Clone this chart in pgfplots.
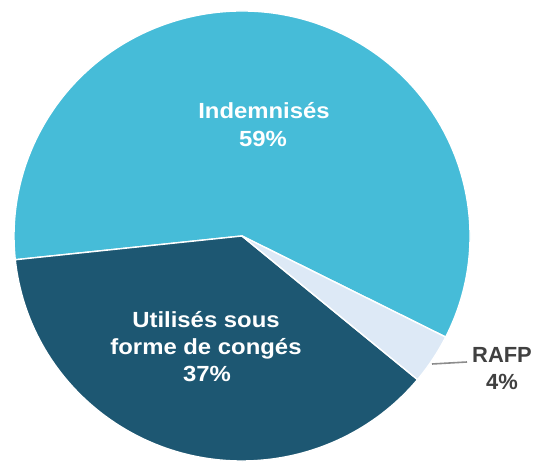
\documentclass[border=0pt]{standalone}
\usepackage{pgfplots}
\usepackage{pgfplotstable}
\pgfplotsset{compat=1.18}
\usepackage{fontspec}
\setmainfont{Liberation Sans}
\definecolor{cIndem}{RGB}{70,188,216}
\definecolor{cUtil}{RGB}{29,87,114}
\definecolor{cRafp}{RGB}{221,233,246}
\definecolor{cLab}{RGB}{64,64,64}
\definecolor{cLead}{RGB}{140,140,140}

\pgfplotstableread{
label value
Indemnises 59.1
Utilises 37.3
RAFP 3.6
}\piedata
\pgfplotstablegetelem{0}{value}\of\piedata \let\vA\pgfplotsretval
\pgfplotstablegetelem{1}{value}\of\piedata \let\vB\pgfplotsretval
\pgfplotstablegetelem{2}{value}\of\piedata \let\vC\pgfplotsretval
\pgfmathsetmacro{\aS}{-26.7}
\pgfmathsetmacro{\aA}{\aS+3.6*\vA}
\pgfmathsetmacro{\aB}{\aA+3.6*\vB}
\pgfmathsetmacro{\aC}{\aB+3.6*\vC}
\def\cx{242}
\def\cy{-236}
\def\rx{228}
\def\ry{225}

\begin{document}
\begin{tikzpicture}
\begin{axis}[
  scale only axis, width=542bp, height=464bp,
  xmin=0, xmax=542, ymin=-464, ymax=0,
  hide axis, clip=false,
]
\fill[cIndem, draw=white, line width=1.4bp, line join=round]
  (axis cs:\cx,\cy) -- (axis cs:{\cx+\rx*cos(\aS)},{\cy+\ry*sin(\aS)})
  arc[start angle=\aS, end angle=\aA, x radius=\rx bp, y radius=\ry bp] -- cycle;
\fill[cUtil, draw=white, line width=1.4bp, line join=round]
  (axis cs:\cx,\cy) -- (axis cs:{\cx+\rx*cos(\aA)},{\cy+\ry*sin(\aA)})
  arc[start angle=\aA, end angle=\aB, x radius=\rx bp, y radius=\ry bp] -- cycle;
\fill[cRafp, draw=white, line width=1.4bp, line join=round]
  (axis cs:\cx,\cy) -- (axis cs:{\cx+\rx*cos(\aB)},{\cy+\ry*sin(\aB)})
  arc[start angle=\aB, end angle=\aC, x radius=\rx bp, y radius=\ry bp] -- cycle;
\draw[cLead, line width=1.6bp] (axis cs:432,-364) -- (axis cs:467,-362);
\begin{scope}[every node/.style={font=\fontsize{22}{27}\selectfont\bfseries, anchor=base, inner sep=0pt}]
\node[text=white, xscale=1.09] at (axis cs:264,-119) {Indemnisés};
\node[text=white, xscale=1.09] at (axis cs:263,-147) {59\%};
\node[text=white, xscale=1.09] at (axis cs:206,-328) {Utilisés sous};
\node[text=white, xscale=1.09] at (axis cs:206,-355) {forme de congés};
\node[text=white, xscale=1.09] at (axis cs:207,-382) {37\%};
\node[text=cLab] at (axis cs:502,-363) {RAFP};
\node[text=cLab] at (axis cs:502,-390) {4\%};
\end{scope}
\end{axis}
\pgfresetboundingbox
\path[use as bounding box] (current axis.south west) rectangle (current axis.north east);
\end{tikzpicture}
\end{document}
